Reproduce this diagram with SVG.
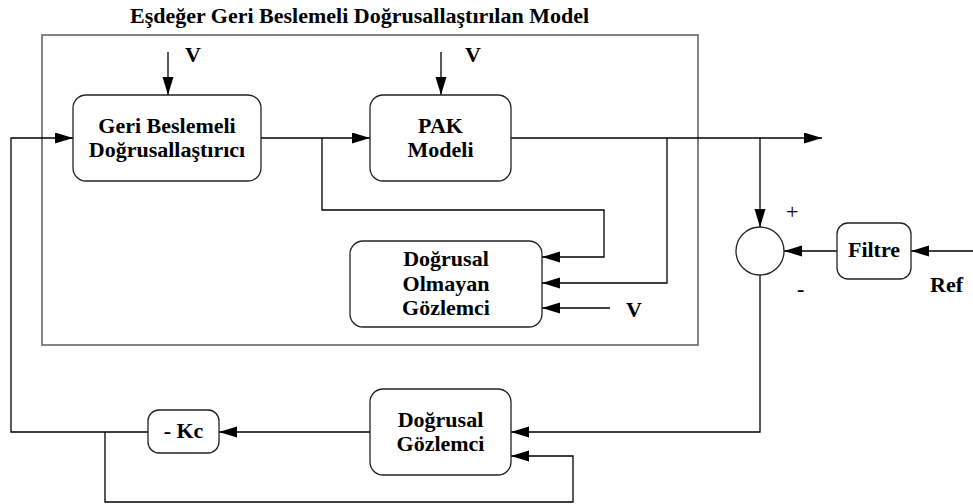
<svg xmlns="http://www.w3.org/2000/svg" width="973" height="504" viewBox="0 0 973 504" font-family="'Liberation Serif', 'Times New Roman', 'DejaVu Serif', serif">
  <defs>
    <marker id="arrow" markerUnits="userSpaceOnUse" markerWidth="18" markerHeight="12" refX="18" refY="5.5" orient="auto">
      <path d="M0,0 L18,5.5 L0,11 z" fill="#000"/>
    </marker>
    <style>
      .box { fill: #fff; stroke: #222; stroke-width: 1.3; }
      .frame { fill: none; stroke: #666; stroke-width: 1.6; }
      .wire { fill: none; stroke: #000; stroke-width: 1.3; }
      .arr { marker-end: url(#arrow); }
      .lbl { font-family: 'Liberation Serif', 'Times New Roman', 'DejaVu Serif', serif; font-weight: bold; font-size: 22px; fill: #000; }
      .mid { text-anchor: middle; }
      .sign { font-weight: normal; font-size: 22px; }
    </style>
  </defs>

  <rect width="973" height="504" fill="#fff"/>

  <!-- equivalent linearised model frame -->
  <g id="model-frame">
    <rect class="frame" x="42" y="35" width="656" height="310"/>
    <text class="lbl" x="130" y="23">Eşdeğer Geri Beslemeli Doğrusallaştırılan Model</text>
  </g>

  <g id="connectors">
    <path class="wire arr" d="M168,52 V95"/>
    <path class="wire arr" d="M441,52 V95"/>
    <path class="wire arr" d="M148,432 H11 V138 H73"/>
    <path class="wire arr" d="M261,138 H370"/>
    <path class="wire arr" d="M322,138 V210 H604 V257 H542"/>
    <path class="wire arr" d="M511,138 H822"/>
    <path class="wire arr" d="M667,138 V283 H542"/>
    <path class="wire arr" d="M760,138 V227"/>
    <path class="wire arr" d="M837,251 H784"/>
    <path class="wire arr" d="M973,251 H911"/>
    <path class="wire arr" d="M760,275 V432 H511"/>
    <path class="wire arr" d="M610,308 H542"/>
    <path class="wire arr" d="M370,432 H219"/>
    <path class="wire arr" d="M105,432 V502 H573 V456 H511"/>
  </g>

  <g id="input-labels">
    <text class="lbl" x="185" y="62">V</text>
    <text class="lbl" x="465" y="62">V</text>
    <text class="lbl" x="626" y="317">V</text>
    <text class="lbl" x="930" y="292">Ref</text>
  </g>

  <g id="linearizer">
    <rect class="box" x="73" y="95" width="188" height="86" rx="13"/>
    <text class="lbl mid" x="167" y="133">Geri Beslemeli</text>
    <text class="lbl mid" x="167" y="157">Doğrusallaştırıcı</text>
  </g>

  <g id="pak-model">
    <rect class="box" x="370" y="95" width="141" height="86" rx="13"/>
    <text class="lbl mid" x="440.5" y="133">PAK</text>
    <text class="lbl mid" x="440.5" y="157">Modeli</text>
  </g>

  <g id="nonlinear-observer">
    <rect class="box" x="350" y="241" width="192" height="86" rx="13"/>
    <text class="lbl mid" x="446" y="266">Doğrusal</text>
    <text class="lbl mid" x="446" y="291">Olmayan</text>
    <text class="lbl mid" x="446" y="315">Gözlemci</text>
  </g>

  <g id="summing-junction">
    <circle class="box" cx="760" cy="251" r="24"/>
    <text class="lbl sign" x="786" y="219">+</text>
    <text class="lbl" x="797" y="296">-</text>
  </g>

  <g id="filter">
    <rect class="box" x="837" y="223" width="74" height="56" rx="11"/>
    <text class="lbl mid" x="874" y="257">Filtre</text>
  </g>

  <g id="linear-observer">
    <rect class="box" x="370" y="389" width="141" height="86" rx="13"/>
    <text class="lbl mid" x="440.5" y="427">Doğrusal</text>
    <text class="lbl mid" x="440.5" y="451">Gözlemci</text>
  </g>

  <g id="gain">
    <rect class="box" x="148" y="410" width="71" height="43" rx="11"/>
    <text class="lbl mid" x="183.5" y="438">- Kc</text>
  </g>
</svg>
